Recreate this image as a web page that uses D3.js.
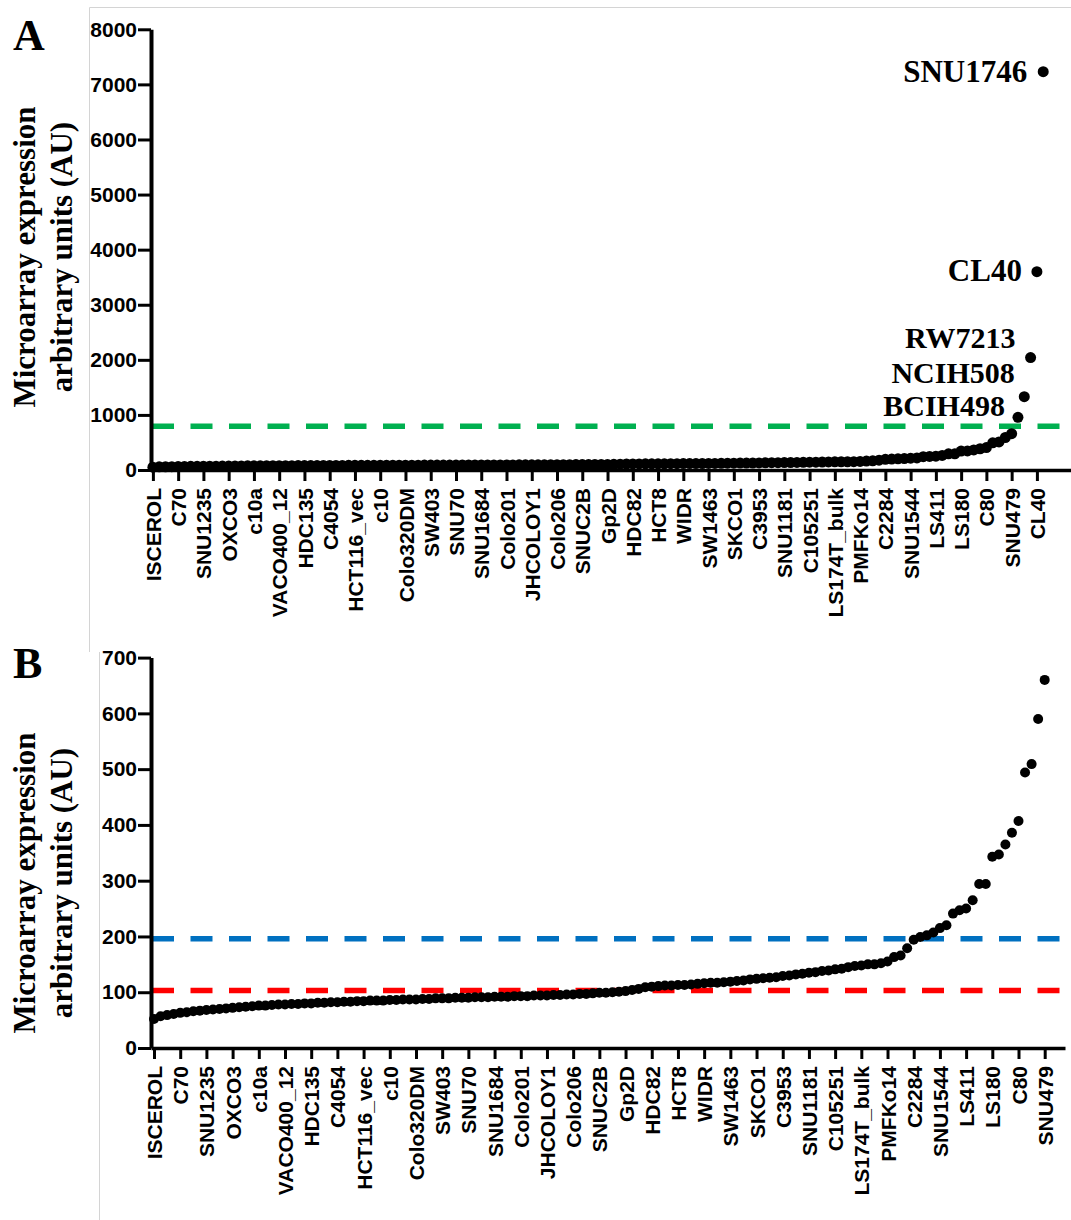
<!DOCTYPE html>
<html><head><meta charset="utf-8">
<script src="https://cdn.jsdelivr.net/npm/d3@7"></script>
<style>body{margin:0;background:#fff}</style>
</head><body><svg id="c" width="1071" height="1220"></svg>
<script>
// ---- data ----
const tickLabels = ["ISCEROL","C70","SNU1235","OXCO3","c10a","VACO400_12","HDC135","C4054","HCT116_vec","c10","Colo320DM","SW403","SNU70","SNU1684","Colo201","JHCOLOY1","Colo206","SNUC2B","Gp2D","HDC82","HCT8","WIDR","SW1463","SKCO1","C3953","SNU1181","C105251","LS174T_bulk","PMFKo14","C2284","SNU1544","LS411","LS180","C80","SNU479","CL40"];
const expression = [
  52, 57, 59, 61, 63, 64, 66, 67, 68, 69,
  70, 71, 72, 73, 74, 75, 76, 76, 77, 78,
  78, 79, 79, 80, 80, 81, 81, 82, 82, 83,
  83, 84, 84, 85, 85, 85, 86, 86, 87, 87,
  87, 88, 88, 89, 89, 89, 90, 90, 90, 91,
  91, 91, 92, 92, 92, 93, 93, 93, 94, 94,
  94, 95, 95, 96, 96, 97, 97, 98, 99, 99,
  100, 101, 102, 104, 106, 109, 110, 111, 112, 112,
  113, 113, 114, 115, 116, 117, 117, 118, 119, 120,
  121, 123, 124, 125, 126, 127, 129, 130, 132, 133,
  135, 136, 138, 139, 141, 142, 145, 147, 148, 150,
  150, 152, 155, 163, 166, 179, 194, 199, 202, 207,
  215, 220, 241, 247, 250, 265, 294, 294, 343, 347,
  365, 386, 407, 494, 509, 590, 660, 956, 1330, 2040,
  3600, 7230
];
const highlightNames = ["BCIH498","NCIH508","RW7213","CL40","SNU1746"];
const thresholdA = [793];
const thresholdB = [196, 103];
const yTicksA = [0,1000,2000,3000,4000,5000,6000,7000,8000];
const yTicksB = [0,100,200,300,400,500,600,700];
const axisTitle = ["Microarray expression","arbitrary units (AU)"];

// ---- drawing ----
const svg = d3.select("#c");
const frame = svg.append("g").attr("stroke","#d4d4d4").attr("stroke-width",1);
frame.append("line").attr("x1",89.5).attr("x2",1071).attr("y1",7.5).attr("y2",7.5);
frame.append("line").attr("x1",89.5).attr("x2",89.5).attr("y1",7.5).attr("y2",652);
frame.append("line").attr("x1",99.5).attr("x2",99.5).attr("y1",652).attr("y2",1220);

const pts = expression.map((v,i)=>({i, v}));
const hiStart = expression.length - highlightNames.length;

function panel(o){
  const g = svg.append("g");
  const x = d3.scaleLinear().domain(o.xDom).range(o.xRange);
  const y = d3.scaleLinear().domain([0, o.yMax]).range([o.y0, o.yTop]);

  // threshold lines
  o.thresholds.forEach((t,k)=>{
    g.append("line").attr("x1",o.xRange[0]+1).attr("x2",1071)
      .attr("y1",y(t)).attr("y2",y(t))
      .attr("stroke",o.tColors[k]).attr("stroke-width",5.5)
      .attr("stroke-dasharray","22,16.5");
  });

  // points
  g.append("g").selectAll("circle").data(o.data).join("circle")
    .attr("cx",d=>x(d.i)).attr("cy",d=>y(d.v)).attr("r",o.r).attr("fill","#000");

  // y axis
  const ya = g.append("g").attr("transform",`translate(${o.xRange[0]},0)`)
    .call(d3.axisLeft(y).tickValues(o.yTicks).tickSize(13).tickSizeOuter(0).tickPadding(1).tickFormat(d3.format("d")));
  ya.select(".domain").attr("stroke-width",4);
  ya.selectAll(".tick line").attr("stroke-width",3);
  ya.selectAll("text").attr("font-family","'Liberation Sans', Arial, sans-serif")
    .attr("font-weight","bold").attr("font-size",21).attr("fill","#000");

  // x axis
  const labels = o.labels;
  const xa = g.append("g").attr("transform",`translate(0,${o.y0})`)
    .call(d3.axisBottom(x).tickValues(labels.map((_,k)=>k*4)).tickSize(11).tickSizeOuter(0)
      .tickFormat((d)=>labels[d/4]));
  xa.select(".domain").attr("stroke-width",3.5);
  xa.selectAll(".tick line").attr("stroke-width",3);
  xa.selectAll("text").attr("font-family","'Liberation Sans', Arial, sans-serif")
    .attr("font-weight","bold").attr("font-size",21).attr("fill","#000")
    .attr("transform","rotate(-90)").attr("x",-18).attr("y",0).attr("dy","0.36em")
    .attr("text-anchor","end");

  // axis title
  const tf = "'Liberation Serif', 'Times New Roman', serif";
  [[35,0],[72,1]].forEach(([bx,k])=>{
    g.append("text").attr("transform",`translate(${bx},${o.titleY}) rotate(-90)`)
      .attr("text-anchor","middle").attr("font-family",tf).attr("font-weight","bold")
      .attr("font-size",31).attr("fill","#000").text(axisTitle[k]);
  });
  // panel letter
  g.append("text").attr("x",13).attr("y",o.letterY).attr("font-family",tf)
    .attr("font-weight","bold").attr("font-size",44).attr("fill","#000").text(o.letter);

  return {g,x,y};
}

const A = panel({
  data: pts, xDom:[-0.3,145.4], xRange:[151,1071], yMax:8000, y0:470, yTop:29.3,
  yTicks:yTicksA, labels:tickLabels, thresholds:thresholdA, tColors:["#00B050"],
  r:5.5, titleY:257, letter:"A", letterY:50
});

// highlighted labels in panel A
const labelOffset = {SNU1746:[-16,10], CL40:[-15,9], RW7213:[-15,-10], NCIH508:[-9.5,-14], BCIH498:[-13,-1]};
highlightNames.forEach((name,k)=>{
  const i = hiStart + k;
  const off = labelOffset[name];
  A.g.append("text").attr("x",A.x(i)+off[0]).attr("y",A.y(expression[i])+off[1])
    .attr("text-anchor","end").attr("font-family","'Liberation Serif', 'Times New Roman', serif")
    .attr("font-weight","bold").attr("font-size",name.length>5 && name!=="SNU1746" ? 30 : 31)
    .attr("fill","#000").text(name);
});

panel({
  data: pts.filter(d=>d.v<=700), xDom:[-0.46,139.1], xRange:[151,1065], yMax:700, y0:1048, yTop:657.6,
  yTicks:yTicksB, labels:tickLabels.slice(0,35), thresholds:thresholdB, tColors:["#0070C0","#FF0000"],
  r:5, titleY:883, letter:"B", letterY:678
});
</script>
</body></html>
